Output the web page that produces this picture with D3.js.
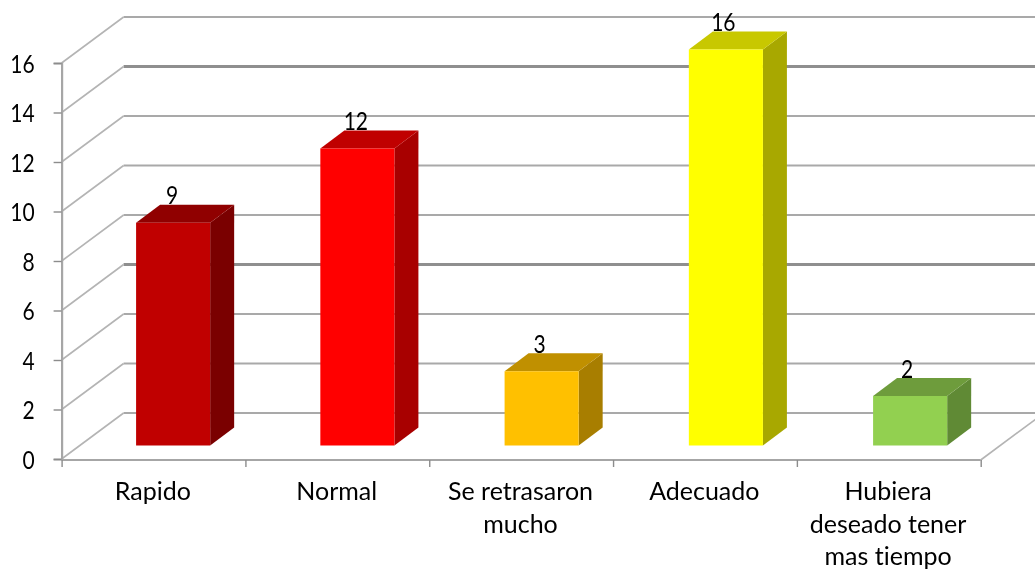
<!DOCTYPE html>
<html>
<head>
<meta charset="utf-8">
<script src="https://cdn.jsdelivr.net/npm/d3@7"></script>
<style>
  html, body { margin: 0; padding: 0; background: #fff; overflow: hidden; }
  svg { filter: blur(0.4px); }
  text { font-family: Lato, "Open Sans", sans-serif; fill: #000; font-variant-ligatures: none; }
</style>
</head>
<body>
<div id="chart"></div>
<script>
// values
var categories = ["Rapido", "Normal", "Se retrasaron\nmucho", "Adecuado", "Hubiera\ndeseado tener\nmas tiempo"];
var values = [9, 12, 3, 16, 2];
var yTicks = [0, 2, 4, 6, 8, 10, 12, 14, 16];
var frontColors = ["#C00000", "#FF0000", "#FFC000", "#FFFF00", "#92D050"];
var topColors = ["#900000", "#C00000", "#C09000", "#C8C800", "#6E9C3C"];
var sideColors = ["#7A0000", "#A80000", "#A87E00", "#A8A800", "#608A35"];

var width = 1035, height = 569;
var fontSize = 25;
// lato digits are wider than the ones in the picture, squeeze them
var digitWidth = 12.2;

// wall depth of the fake 3d box
var wallDx = 62, wallDy = -46;
// depth of the bars themselves
var barDx = 24, barDy = -18;

var svg = d3.select("#chart").append("svg")
    .attr("width", width)
    .attr("height", height);

var yScale = d3.scaleLinear().domain([0, 16]).range([459, 63]);
var xEdge = d3.scaleLinear().domain([0, categories.length]).range([61.6, 980.7]);

var xLabel = d3.scaleBand()
    .domain(categories)
    .range([61, 980]);

// bars sit a little right of the centre of their band
var xBar = d3.scaleBand()
    .domain(categories)
    .range([81, 1002.25])
    .paddingInner(0.598)
    .paddingOuter(0.299);

var gridColor = "#a9a9a9";

// back wall lines, 14 and 6 come out heavier in the original
var grid = svg.append("g");
yTicks.forEach(function (v) {
    var heavy = v === 14 || v === 6;
    grid.append("line")
        .attr("x1", xEdge(0) + wallDx)
        .attr("x2", width)
        .attr("y1", yScale(v) + wallDy)
        .attr("y2", yScale(v) + wallDy)
        .attr("stroke", heavy ? "#8f8f8f" : gridColor)
        .attr("stroke-width", heavy ? 3 : 2.2);

    // side wall diagonal
    grid.append("line")
        .attr("x1", xEdge(0))
        .attr("x2", xEdge(0) + wallDx)
        .attr("y1", yScale(v))
        .attr("y2", yScale(v) + wallDy)
        .attr("stroke", "#b4b4b4")
        .attr("stroke-width", 1.6);
});

// right edge of the floor
grid.append("line")
    .attr("x1", xEdge(5))
    .attr("x2", xEdge(5) + wallDx)
    .attr("y1", yScale(0) + 1)
    .attr("y2", yScale(0) + 1 + wallDy)
    .attr("stroke", "#b4b4b4")
    .attr("stroke-width", 1.6);

// axes
var yAxis = svg.append("g")
    .attr("transform", "translate(" + xEdge(0) + ",0)")
    .call(d3.axisLeft(yScale).tickValues(yTicks).tickSize(8).tickPadding(19));

var xAxis = svg.append("g")
    .attr("transform", "translate(0," + (yScale(0) + 1) + ")")
    .call(d3.axisBottom(xEdge).ticks(5).tickSize(7).tickFormat(""));

xAxis.selectAll(".domain").attr("d", "M" + xEdge(0) + ",0H" + xEdge(5));

svg.selectAll(".domain")
    .attr("stroke", "#a6a6a6")
    .attr("stroke-width", 2.2);
svg.selectAll(".tick line")
    .attr("stroke", "#8c8c8c")
    .attr("stroke-width", 1.4);
yAxis.selectAll("text")
    .attr("dy", "0.37em")
    .attr("textLength", function (d) { return String(d).length * digitWidth; })
    .attr("lengthAdjust", "spacingAndGlyphs")
    .style("font-size", fontSize + "px")
    .style("font-family", "Lato");

// bars
var barBase = yScale(0) - 13.5;
function barTop(v) {
    return barBase - (yScale(0) - yScale(v));
}

var bars = svg.selectAll(".bar")
    .data(values)
    .enter()
    .append("g")
    .attr("class", "bar");

// side face
bars.append("path")
    .attr("d", function (d, i) {
        var x = xBar(categories[i]) + xBar.bandwidth();
        return "M" + x + "," + barBase +
            "L" + (x + barDx) + "," + (barBase + barDy) +
            "L" + (x + barDx) + "," + (barTop(d) + barDy) +
            "L" + x + "," + barTop(d) + "Z";
    })
    .attr("fill", function (d, i) { return sideColors[i]; });

// top face
bars.append("path")
    .attr("d", function (d, i) {
        var x = xBar(categories[i]), w = xBar.bandwidth();
        return "M" + x + "," + barTop(d) +
            "L" + (x + barDx) + "," + (barTop(d) + barDy) +
            "L" + (x + w + barDx) + "," + (barTop(d) + barDy) +
            "L" + (x + w) + "," + barTop(d) + "Z";
    })
    .attr("fill", function (d, i) { return topColors[i]; });

// front face
bars.append("rect")
    .attr("x", function (d, i) { return xBar(categories[i]); })
    .attr("y", function (d) { return barTop(d); })
    .attr("width", xBar.bandwidth())
    .attr("height", function (d) { return barBase - barTop(d); })
    .attr("fill", function (d, i) { return frontColors[i]; });

// value labels
bars.append("text")
    .attr("x", function (d, i) { return xBar(categories[i]) + xBar.bandwidth() / 2 - 1 - i * 0.5; })
    .attr("y", function (d) { return barTop(d) + barDy - 0.5; })
    .attr("text-anchor", "middle")
    .attr("textLength", function (d) { return String(d).length * digitWidth; })
    .attr("lengthAdjust", "spacingAndGlyphs")
    .style("font-size", fontSize + "px")
    .text(function (d) { return d; });

// category labels, one text per line
categories.forEach(function (c) {
    var label = svg.append("text")
        .attr("text-anchor", "middle")
        .style("font-size", fontSize + "px");
    c.split("\n").forEach(function (line, i) {
        label.append("tspan")
            .attr("x", xLabel(c) + xLabel.bandwidth() / 2)
            .attr("y", 500 + i * 32.5)
            .text(line);
    });
});
</script>
</body>
</html>
